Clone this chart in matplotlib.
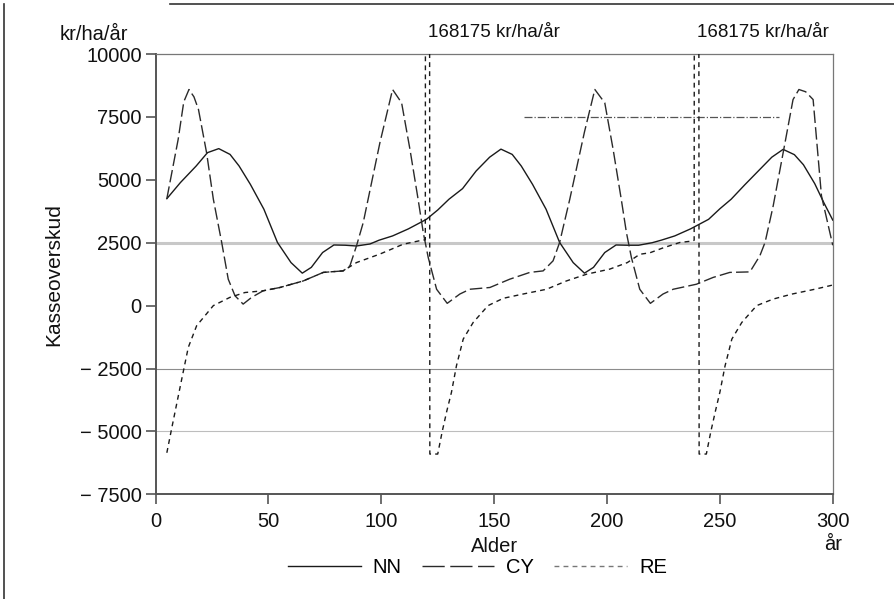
import matplotlib.pyplot as plt
import matplotlib.lines as mlines
import matplotlib.transforms as mtransforms

plt.rcParams['font.family'] = ['Liberation Sans', 'DejaVu Sans']

# NN: solid curve, rotation ~125 years
nn_age = [5, 11, 18, 23, 28, 33, 37, 42, 48, 54, 60, 65, 69, 74, 79, 84, 89, 95,
          99, 105, 112, 120, 125, 130, 136, 142, 148, 153, 158, 162, 167, 173,
          179, 185, 190, 194, 199, 204, 209, 214, 220, 224, 230, 237, 245, 250,
          255, 261, 267, 273, 278, 283, 287, 292, 296, 300]
nn_val = [4250, 4890, 5550, 6080, 6240, 6010, 5550, 4820, 3830, 2510, 1710, 1290,
          1520, 2110, 2410, 2400, 2370, 2450, 2600, 2770, 3050, 3430, 3800, 4230,
          4650, 5350, 5900, 6220, 6010, 5550, 4820, 3830, 2510, 1710, 1290, 1520,
          2110, 2410, 2400, 2400, 2500, 2600, 2770, 3050, 3430, 3850, 4230, 4800,
          5350, 5900, 6210, 6000, 5600, 4850, 4100, 3400]

# CY: long dashes, rotation ~90 years
cy_age = [5, 10, 12.5, 14.8, 17, 19, 22.6, 25.6, 29.3, 32.2, 35.2, 38.8, 42.6,
          47.7, 55.1, 65.4, 74.3, 83.1, 86.1, 89, 92, 99.4, 105, 109, 112.7,
          116.3, 118.6, 120.8, 124.5, 129.2, 134.8, 139.2, 148.1, 156.9, 165.8,
          171.7, 176.1, 179, 183.5, 190, 194.6, 199, 202.7, 206.3, 208.6, 210.8,
          214.5, 219.2, 224.8, 229.3, 239.6, 247, 254.4, 263.3, 267.7, 270,
          273.6, 278.3, 282.4, 285, 288, 291.3, 295, 300]
cy_val = [4250, 6600, 8100, 8590, 8300, 7800, 6080, 4230, 2510, 1050, 390, 60,
          330, 590, 720, 980, 1320, 1380, 1580, 2370, 3300, 6480, 8590, 8060,
          6210, 4230, 2900, 1910, 650, 90, 460, 650, 720, 1050, 1320, 1380, 1780,
          2510, 4230, 6900, 8590, 8060, 6210, 4230, 2900, 1910, 650, 90, 460, 650,
          850, 1120, 1320, 1340, 1980, 2510, 3960, 6210, 8190, 8590, 8500, 8190,
          4360, 2400]

# RE: short dashes, rotation ~120 years, spikes to the clear-cut value
re_age = [5, 7.1, 11.6, 14.5, 18.2, 25.6, 33, 39.6, 47.7, 55.1, 65.4, 74.3, 83.1,
          89, 99.4, 109.7, 118.6, 119.5, 120.5, 121.5, 125, 127, 129, 131.1,
          133.3, 136.3, 140.7, 147.3, 154, 162.8, 173.2, 182, 191, 201.2, 209,
          214.5, 219, 225, 232.3, 238.1, 238.6, 239.6, 240.8, 244, 246, 248, 250,
          252.3, 255.3, 259.7, 266.3, 273.6, 282, 292, 298.7, 300]
re_val = [-5850, -4900, -2920, -1660, -800, 0, 330, 520, 590, 720, 980, 1320, 1380,
          1710, 2050, 2440, 2610, 2610, 168175, -5900, -5900, -5000, -4200, -3440,
          -2390, -1330, -670, 0, 290, 460, 650, 980, 1250, 1450, 1710, 2040, 2100,
          2300, 2510, 2570, 2600, 168175, -5900, -5900, -5000, -4200, -3440,
          -2390, -1330, -670, 0, 260, 460, 650, 790, 820]

spike_age = [119.3, 238.6]
spike_label = '168175 kr/ha/år'

xticks = [0, 50, 100, 150, 200, 250, 300]
yticks = [-7500, -5000, -2500, 0, 2500, 5000, 7500, 10000]
ytick_labels = ['− 7500', '− 5000', '− 2500', '0', '2500', '5000', '7500', '10000']

fig = plt.figure(figsize=(8.94, 5.99), dpi=100)
ax = fig.add_axes([0.174, 0.1748, 0.7575, 0.735])

# faint reference lines across the plot
ax.axhline(2500, color='#c8c8c8', lw=2.2, zorder=1)
ax.axhline(-2500, color='#8c8c8c', lw=0.8, zorder=1)
ax.axhline(-5000, color='#bdbdbd', lw=0.8, zorder=1)
ax.plot([163, 276], [7500, 7500], color='#555555', lw=0.9, ls='-.', zorder=1)

nn_line, = ax.plot(nn_age, nn_val, color='#1a1a1a', lw=1.0, zorder=3)
cy_line, = ax.plot(cy_age, cy_val, color='#2a2a2a', lw=1.0, zorder=3)
cy_line.set_dashes([9, 3])
re_line, = ax.plot(re_age, re_val, color='#1a1a1a', lw=1.0, zorder=3)
re_line.set_dashes([3.5, 3])

ax.set_xlim(0, 300)
ax.set_ylim(-7500, 10000)
ax.set_xticks(xticks)
ax.set_yticks(yticks)
ax.set_yticklabels(ytick_labels)

for side in ['left', 'bottom']:
    ax.spines[side].set_color('#555555')
    ax.spines[side].set_linewidth(1.4)
for side in ['top', 'right']:
    ax.spines[side].set_color('#777777')
    ax.spines[side].set_linewidth(0.9)

ax.tick_params(axis='both', direction='out', length=7, width=1.2, color='#555555',
               labelsize=14.5, labelcolor='#111111')
ax.tick_params(axis='x', pad=6)
ax.tick_params(axis='y', pad=3)

ax.set_ylabel('Kasseoverskud', fontsize=15, labelpad=12, color='#111111')
ax.set_xlabel('Alder', fontsize=14.5, labelpad=4, color='#111111')

ax.text(-0.04, 1.045, 'kr/ha/år', transform=ax.transAxes, fontsize=14.5,
        ha='right', va='center', color='#111111')
ax.text(1.0, -0.115, 'år', transform=ax.transAxes, fontsize=14.5,
        ha='center', va='center', color='#111111')

trans = mtransforms.blended_transform_factory(ax.transData, ax.transAxes)
for a in spike_age:
    ax.text(a + 1.2, 1.048, spike_label, transform=trans, fontsize=13.5,
            ha='left', va='center', color='#111111')

# legend handles drawn to look like the series
h_nn = mlines.Line2D([], [], color='#1a1a1a', lw=1.0)
h_cy = mlines.Line2D([], [], color='#2a2a2a', lw=1.0, dashes=[16, 4])
h_re = mlines.Line2D([], [], color='#777777', lw=1.0, dashes=[3.5, 3])
fig.legend([h_nn, h_cy, h_re], ['NN', 'CY', 'RE'], loc='center',
           bbox_to_anchor=(0.534, 0.052), ncol=3, frameon=False, fontsize=14.5,
           handlelength=3.6, handletextpad=0.6, columnspacing=1.0)

# frame left over around the figure
fig.add_artist(mlines.Line2D([0.0045, 0.0045], [0.0, 0.9933], color='#333333',
                             lw=1.2, transform=fig.transFigure))
fig.add_artist(mlines.Line2D([0.19, 1.0], [0.9933, 0.9933], color='#333333',
                             lw=1.2, transform=fig.transFigure))

fig.savefig('out.png', dpi=100)
